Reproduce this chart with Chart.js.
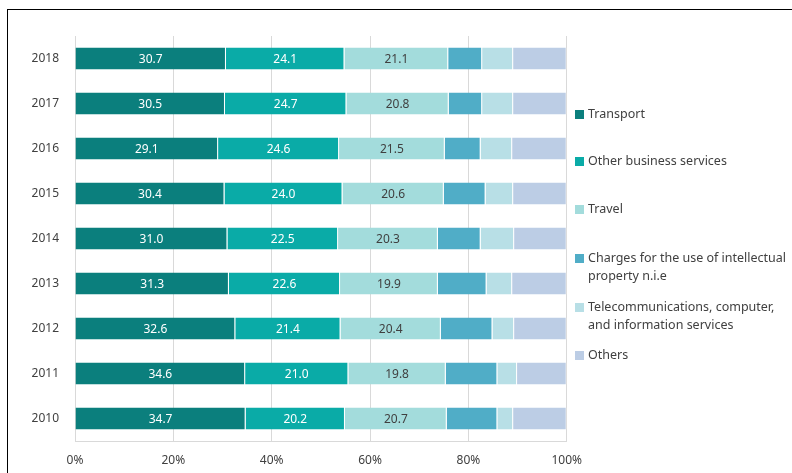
<!DOCTYPE html>
<html>
<head>
<meta charset="utf-8">
<script src="https://cdn.jsdelivr.net/npm/chart.js@4.4.1/dist/chart.umd.min.js"></script>
<style>
  html, body { margin: 0; padding: 0; background: #fff; }
  body { width: 792px; height: 473px; position: relative; overflow: hidden; font-family: "Noto Sans", sans-serif; }
  #frame { position: absolute; left: 7px; top: 9px; right: -2px; bottom: -2px; border-left: 1px solid #000; border-top: 1px solid #000; }
  #wrap { position: absolute; left: 8px; top: 10px; width: 586px; height: 463px; }
  #legend { position: absolute; left: 575px; top: 0; width: 215px; font-size: 12.5px; color: #404040; }
  .item { position: absolute; left: 0; display: flex; align-items: flex-start; line-height: 18px; }
  .box { width: 9px; height: 9px; margin-top: 4.5px; margin-right: 4px; flex: none; }
</style>
</head>
<body>
<div id="frame"></div>
<div id="wrap"><canvas id="chart"></canvas></div>
<div id="legend"></div>
<script>
const years = ['2018', '2017', '2016', '2015', '2014', '2013', '2012', '2011', '2010'];

const transport   = [30.7, 30.5, 29.1, 30.4, 31.0, 31.3, 32.6, 34.6, 34.7];
const otherBiz    = [24.1, 24.7, 24.6, 24.0, 22.5, 22.6, 21.4, 21.0, 20.2];
const travel      = [21.1, 20.8, 21.5, 20.6, 20.3, 19.9, 20.4, 19.8, 20.7];
const charges     = [6.9, 6.8, 7.3, 8.5, 8.7, 9.9, 10.5, 10.5, 10.3];
const telecom     = [6.3, 6.3, 6.4, 5.6, 6.8, 5.2, 4.4, 4.0, 3.2];
const others      = [10.9, 10.9, 11.1, 10.9, 10.7, 11.1, 10.7, 10.1, 10.9];

const xTicks = [0, 20, 40, 60, 80, 100];

const names = ['Transport', 'Other business services', 'Travel',
  'Charges for the use of intellectual property n.i.e',
  'Telecommunications, computer, and information services', 'Others'];
const colors = ['#0b7f7d', '#0aaba7', '#a3dcdc', '#50adc7', '#b8dfe6', '#bccde5'];
const labelColors = ['#ffffff', '#ffffff', '#404040', null, null, null];
const series = [transport, otherBiz, travel, charges, telecom, others];

// legend: html, wraps like the original
const legendTops = [105, 152, 200, 249, 298, 346];
const legendWidths = [null, null, null, 212, 200, null];
const legend = document.getElementById('legend');
names.forEach((n, i) => {
  const d = document.createElement('div');
  d.className = 'item';
  d.style.top = legendTops[i] + 'px';
  if (legendWidths[i]) d.style.width = legendWidths[i] + 'px';
  d.innerHTML = '<span class="box" style="background:' + colors[i] + '"></span><span>' + n + '</span>';
  legend.appendChild(d);
});

const barLabels = {
  id: 'barLabels',
  afterDatasetsDraw(chart) {
    const ctx = chart.ctx;
    ctx.save();
    ctx.font = '12px "Noto Sans"';
    ctx.textAlign = 'center';
    ctx.textBaseline = 'middle';
    chart.data.datasets.forEach((ds, i) => {
      if (!labelColors[i]) return;
      ctx.fillStyle = labelColors[i];
      chart.getDatasetMeta(i).data.forEach((bar, j) => {
        const p = bar.getProps(['x', 'base', 'y'], true);
        ctx.fillText(ds.data[j].toFixed(1), (p.x + p.base) / 2, p.y + 1);
      });
    });
    ctx.restore();
  }
};

new Chart(document.getElementById('chart'), {
  type: 'bar',
  data: {
    labels: years,
    datasets: series.map((s, i) => ({
      label: names[i],
      data: s,
      backgroundColor: colors[i],
      borderColor: 'rgba(255,255,255,0.35)',
      borderWidth: { right: 1 },
      borderSkipped: false,
      categoryPercentage: 1,
      barPercentage: 0.49
    }))
  },
  options: {
    indexAxis: 'y',
    responsive: true,
    maintainAspectRatio: false,
    animation: false,
    layout: { padding: { top: 26, right: 0, left: 0, bottom: 0 } },
    plugins: { legend: { display: false }, tooltip: { enabled: false } },
    scales: {
      x: {
        stacked: true,
        min: 0,
        max: 100,
        afterBuildTicks: (scale) => { scale.ticks = xTicks.map(v => ({ value: v })); },
        afterFit: (scale) => { scale.height = 32; },
        grid: { color: '#d9d9d9', lineWidth: 1, drawTicks: false },
        border: { color: '#d9d9d9' },
        ticks: {
          padding: 12,
          color: '#404040',
          font: { family: 'Noto Sans', size: 12 },
          callback: v => v + '%'
        }
      },
      y: {
        stacked: true,
        afterFit: (scale) => { scale.width = 67; },
        grid: { display: false, drawTicks: false },
        border: { color: '#d9d9d9' },
        ticks: {
          padding: 16,
          color: '#404040',
          font: { family: 'Noto Sans', size: 12 }
        }
      }
    }
  },
  plugins: [barLabels]
});
</script>
</body>
</html>
